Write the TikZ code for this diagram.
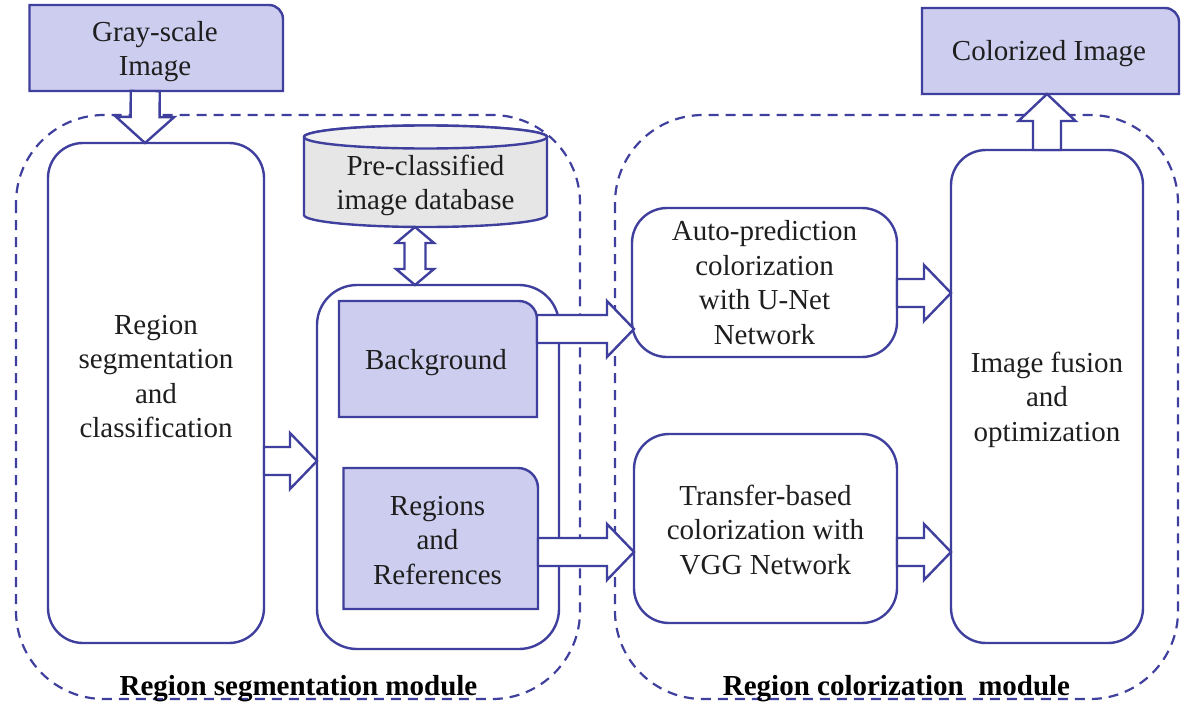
\documentclass[tikz,border=0pt]{standalone}
\usepackage{fontspec}
\setmainfont{Liberation Serif}
\usetikzlibrary{calc,backgrounds}
\definecolor{edge}{HTML}{3F3F9E}
\definecolor{lilac}{HTML}{CDCDEF}
\definecolor{dbside}{HTML}{E6E6E6}
\definecolor{dbtop}{HTML}{F0F0F0}
\definecolor{ink}{HTML}{1E1E1E}
\tikzset{
  base/.style={inner sep=0pt,outer sep=0pt,align=center,text=ink,font=\fontsize{29}{34.5}\selectfont,execute at begin node={\rule{0pt}{26pt}}},
  softbox/.style={base,draw=edge,line width=2.4pt,rounded corners=35pt},
  slot/.style={base},
  tabshape/.style={draw=edge,line width=2.4pt,fill=lilac},
  dbshape/.style={draw=edge,line width=2.4pt,fill=dbside},
  moduleframe/.style={draw=edge,line width=2.2pt,dash pattern=on 10pt off 7pt,rounded corners=88pt},
  modulelabel/.style={base,font=\fontsize{29}{32}\selectfont\bfseries,text=black},
  blockstyle/.style={draw=edge,line width=2.4pt,fill=white,line join=miter},
}
% block arrow: start, tip, shaft half width, head half width, head length
\newcommand\blockarrow[5]{%
  \draw[blockstyle] let \p1=#1,\p2=#2,\n1={veclen(\x2-\x1,\y2-\y1)},\n2={atan2(\y2-\y1,\x2-\x1)} in
    [shift={(\p1)},rotate=\n2]
    (0pt,#3pt) -- (\n1-#5pt,#3pt) -- (\n1-#5pt,#4pt) -- (\n1,0pt) -- (\n1-#5pt,-#4pt) -- (\n1-#5pt,-#3pt) -- (0pt,-#3pt) -- cycle;}
\newcommand\doublearrow[5]{%
  \draw[blockstyle] let \p1=#1,\p2=#2,\n1={veclen(\x2-\x1,\y2-\y1)},\n2={atan2(\y2-\y1,\x2-\x1)} in
    [shift={(\p1)},rotate=\n2]
    (0pt,0pt) -- (#5pt,#4pt) -- (#5pt,#3pt) -- (\n1-#5pt,#3pt) -- (\n1-#5pt,#4pt) -- (\n1,0pt) -- (\n1-#5pt,-#4pt) -- (\n1-#5pt,-#3pt) -- (#5pt,-#3pt) -- (#5pt,-#4pt) -- cycle;}
\begin{document}
\begin{tikzpicture}[x=1pt,y=-1pt]
\useasboundingbox (0,0) rectangle (1190,701);

% dashed module frames
\begin{pgfonlayer}{background}
  \coordinate (lfa) at (16,115);
  \coordinate (lfb) at (580,699);
  \coordinate (rfa) at (615,115);
  \coordinate (rfb) at (1178,699);
  \draw[moduleframe] (lfa) rectangle (lfb);
  \draw[moduleframe] (rfa) rectangle (rfb);
\end{pgfonlayer}

% tabbed boxes
\node[slot,minimum width=253.5pt,minimum height=86pt] (gray) at (156.25,48) {};
\node[base] (graytext) at (155,51.5) {Gray-scale\\Image};
\node[slot,minimum width=257pt,minimum height=86pt] (colored) at (1049,51) {Colorized Image};
\coordinate (coloredanchor) at (1050.5,94);
\node[slot,minimum width=198pt,minimum height=116pt] (bg) at (438,359) {};
\node[base] (bgtext) at (436,359.5) {Background};
\node[slot,minimum width=194.5pt,minimum height=141pt] (reg) at (440.75,538.5) {};
\node[base] (regtext) at (437.5,540.5) {Regions\\and\\References};
\node[slot,minimum width=243pt,minimum height=90pt] (db) at (425.5,182) {};
\node[base] (dbtext) at (425.5,185.5) {Pre-classified\\image database};

\begin{pgfonlayer}{background}
  \draw[tabshape] (gray.south west) -- (gray.north west) [rounded corners=14pt] -- (gray.north east) [sharp corners] -- (gray.south east) -- cycle;
  \draw[tabshape] ([xshift=1.5pt]colored.south west) -- ([xshift=1.5pt]colored.north west) [rounded corners=14pt] -- ([xshift=1.5pt]colored.north east) [sharp corners] -- ([xshift=1.5pt]colored.south east) -- cycle;
  \draw[tabshape] (bg.south west) -- (bg.north west) [rounded corners=18pt] -- (bg.north east) [sharp corners] -- (bg.south east) -- cycle;
  \draw[tabshape] (reg.south west) -- (reg.north west) [rounded corners=20pt] -- (reg.north east) [sharp corners] -- (reg.south east) -- cycle;
  \draw[dbshape] (db.north west) -- ([yshift=12pt]db.south west) arc[start angle=180,end angle=360,x radius=121.5pt,y radius=12pt]
     -- (db.north east) arc[start angle=0,end angle=180,x radius=121.5pt,y radius=11.5pt] -- cycle;
  \draw[dbshape,fill=dbtop] (db.north west) arc[start angle=180,end angle=540,x radius=121.5pt,y radius=11.5pt] -- cycle;
\end{pgfonlayer}

% rounded boxes
\node[softbox,minimum width=216pt,minimum height=500pt] (seg) at (156,393) {};
\node[base] (segtext) at (156,376.5) {Region\\segmentation\\and\\classification};
\node[softbox,rounded corners=40pt,minimum width=242pt,minimum height=364pt] (mid) at (438,467) {};
\node[softbox,minimum width=265pt,minimum height=149pt] (auto) at (764.5,282.5) {Auto-prediction\\colorization\\with U-Net\\Network};
\node[softbox,minimum width=263pt,minimum height=189pt] (transfer) at (765.5,528.5) {};
\node[base] (transfertext) at (765.5,530) {Transfer-based\\colorization with\\VGG Network};
\node[softbox,minimum width=192pt,minimum height=493pt] (fusion) at (1047,396.5) {};
\node[base] (fusiontext) at (1047,399.5) {Image fusion\\and\\optimization};

% block arrows
\blockarrow{([xshift=-11pt]gray.south)}{([xshift=-11pt]seg.north)}{14.5}{29}{26}
\blockarrow{([yshift=-68pt]seg.east)}{([yshift=6pt]mid.west)}{14}{28}{27}
\blockarrow{([yshift=30pt]bg.east)}{([xshift=2pt,yshift=-46.5pt]auto.west)}{14}{28}{27}
\blockarrow{([yshift=-13.5pt]reg.east)}{([yshift=-23.5pt]transfer.west)}{14}{28}{27}
\blockarrow{([yshift=-10.5pt]auto.east)}{([yshift=103.5pt]fusion.west)}{14}{28}{27}
\blockarrow{([yshift=-23.5pt]transfer.east)}{([yshift=-155.5pt]fusion.west)}{14}{28}{27}
\blockarrow{(fusion.north)}{([xshift=-2pt]colored.south)}{14}{28.5}{27}
\doublearrow{([xshift=-10.5pt]db.south)}{([xshift=-23pt]mid.north)}{10.5}{19}{16}

% module labels
\node[modulelabel] (lm) at (298.5,686) {Region segmentation module};
\node[modulelabel] (rm) at (896.5,686) {Region colorization\ \ module};
\end{tikzpicture}
\end{document}
